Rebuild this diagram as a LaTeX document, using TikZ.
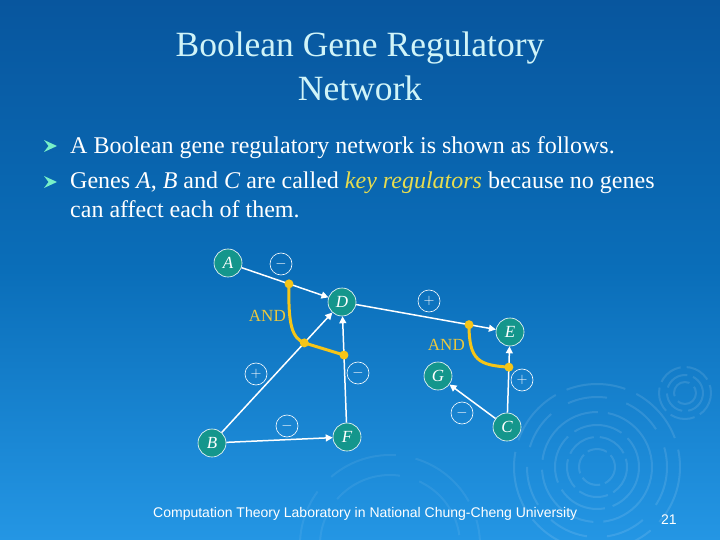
\documentclass[tikz,border=0pt]{standalone}
\usepackage{fontspec}
\setmainfont{Liberation Serif}
\newfontfamily\arialf{Liberation Sans}
\usetikzlibrary{arrows.meta,calc}
\definecolor{bgtop}{RGB}{8,86,158}
\definecolor{bgmid}{RGB}{10,110,185}
\definecolor{bgbot}{RGB}{36,150,228}
\definecolor{titlec}{RGB}{208,244,248}
\definecolor{tealn}{RGB}{20,150,140}
\definecolor{ydot}{RGB}{245,197,24}
\definecolor{andc}{RGB}{235,200,60}
\definecolor{keyc}{RGB}{230,220,80}
\definecolor{bulc}{RGB}{120,240,200}
\begin{document}
\begin{tikzpicture}[x=1pt,y=-1pt,
  gene/.style={circle, fill=tealn, draw=white, line width=0.6pt, minimum size=28pt, inner sep=0pt, font=\fontsize{17}{17}\selectfont\itshape, text=white},
  sign/.style={circle, draw=white, line width=0.6pt, minimum size=22pt, inner sep=0pt, text=white, font=\fontsize{15}{15}\selectfont},
  edge/.style={draw=white, line width=1.5pt, -{Triangle[length=7pt,width=7pt]}},
  ydotst/.style={circle, fill=ydot, inner sep=0pt, minimum size=9pt},
  andcurve/.style={draw=ydot, line width=3pt},
  ripple/.style={draw=white, opacity=0.11, line width=2pt},
  bodytext/.style={anchor=base west, inner sep=0pt, text=white, font=\fontsize{24}{29}\selectfont},
  bulletst/.style={fill=bulc}
]
\useasboundingbox (0,0) rectangle (720,540);
\shade[top color=bgtop, bottom color=bgbot, middle color=bgmid] (0,0) rectangle (720,540);
% ripples
\foreach \r/\a/\b in {83/60/12, 70/40/20, 55/80/10, 42/50/8, 30/30/6, 18/20/5}
  \draw[ripple, dash pattern=on \a pt off \b pt] (597,467) circle[radius=\r];
\foreach \r in {26,18,11}
  \draw[ripple, dash pattern=on 25pt off 6pt] (685,393) circle[radius=\r];
\foreach \r in {90,70}
  \draw[ripple, opacity=0.07, dash pattern=on 70pt off 20pt] (390,545) circle[radius=\r];
% title
\node[anchor=base, text=titlec, font=\fontsize{35.5}{44}\selectfont, inner sep=0pt] (title1) at (360,57) {Boolean Gene Regulatory};
\node[anchor=base, text=titlec, font=\fontsize{35.5}{44}\selectfont, inner sep=0pt] (title2) at (360,101) {Network};
% bullets
\fill[bulletst] (57,146) -- (44,140) -- (48.5,146) -- (44,152) -- cycle;
\fill[bulletst] (57,182) -- (44,176) -- (48.5,182) -- (44,188) -- cycle;
\node[bodytext] (l1) at (70,154) {A Boolean gene regulatory network is shown as follows.};
\node[bodytext] (l2) at (70,189) {Genes \textit{A}, \textit{B} and \textit{C} are called \textcolor{keyc}{\textit{key regulators}} because no genes};
\node[bodytext] (l3) at (70,218) {can affect each of them.};
% genes
\node[gene] (A) at (228,263) {A};
\node[gene] (D) at (342,302) {D};
\node[gene] (B) at (212,443) {B};
\node[gene] (F) at (347,437) {F};
\node[gene] (E) at (510,332) {E};
\node[gene] (G) at (438,376) {G};
\node[gene] (C) at (507,427) {C};
% signs
\node[sign] (s1) at (281,264) {$-$};
\node[sign] (s2) at (256,374) {$+$};
\node[sign] (s3) at (358,373) {$-$};
\node[sign] (s4) at (287,426) {$-$};
\node[sign] (s5) at (429,301) {$+$};
\node[sign] (s6) at (522,380) {$+$};
\node[sign] (s7) at (462,413) {$-$};
% edges
\draw[edge] (A) -- (D);
\draw[edge] (B) -- (D);
\draw[edge] (F) -- (D);
\draw[edge] (B) -- (F);
\draw[edge] (D) -- (E);
\draw[edge] (C) -- (E);
\draw[edge] (C) -- (G);
% AND junctions
\coordinate (d1) at ($(A.center)!0.535!(D.center)$);
\coordinate (d2) at ($(B.center)!0.71!(D.center)$);
\coordinate (d3) at ($(F.center)!0.607!(D.center)$);
\coordinate (d4) at ($(D.center)!0.756!(E.center)$);
\coordinate (d5) at ($(C.center)!0.63!(E.center)$);
\draw[andcurve] (d1) .. controls +(-1,42) and +(-12,-5) .. (d2) -- (d3);
\draw[andcurve] (d4) .. controls +(0,36) and +(-30,-2) .. (d5);
\foreach \p in {d1,d2,d3,d4,d5} \node[ydotst] at (\p) {};
\node[text=andc, font=\fontsize{17}{17}\selectfont, anchor=east, inner sep=0pt] (and1) at (286,316) {AND};
\node[text=andc, font=\fontsize{17}{17}\selectfont, anchor=east, inner sep=0pt] (and2) at (465,345) {AND};
% footer
\node[anchor=base west, inner sep=0pt, text=white, font=\arialf\fontsize{14}{14}\selectfont] (foot) at (153,517) {Computation Theory Laboratory in National Chung-Cheng University};
\node[anchor=base west, inner sep=0pt, text=white, font=\arialf\fontsize{14}{14}\selectfont] (num) at (661,524) {21};
\end{tikzpicture}
\end{document}
